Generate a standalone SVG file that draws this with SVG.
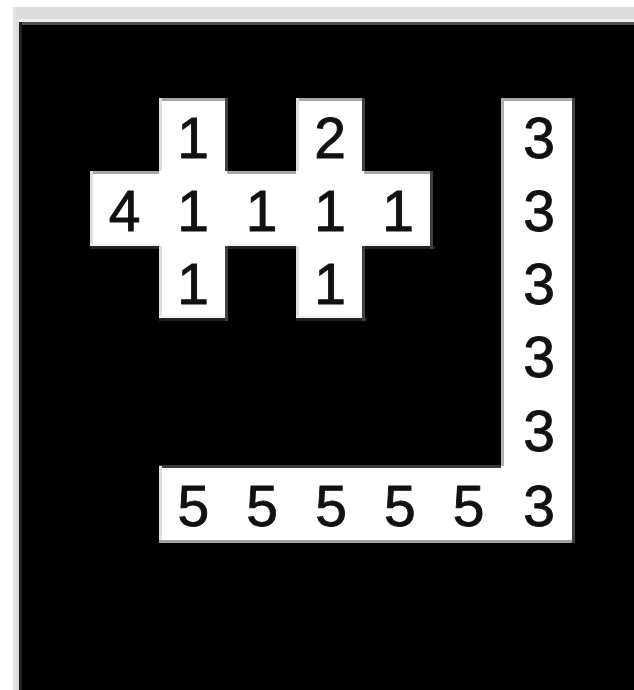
<svg xmlns="http://www.w3.org/2000/svg" width="634" height="690" viewBox="0 0 634 690">
  <style>
    .n { font-family: "Liberation Sans", Arial, sans-serif; font-size: 57px; fill: #111; stroke: #111; stroke-width: 0.9px; text-anchor: middle; }
    .w { fill: #ffffff; }
    .tp { fill: #a8a8a8; }
    .lf { fill: #dedede; }
    .rt { fill: #404040; }
    .bt { fill: #222222; }
    .bi { fill: #f0f0f0; }
  </style>
  <g id="frame">
    <rect x="0" y="0" width="634" height="690" fill="#ffffff"/>
    <rect x="13" y="7" width="621" height="683" fill="#dcdcdc"/>
    <rect x="13" y="7" width="3" height="683" fill="#e4e4e4"/>
    <rect x="19" y="19" width="615" height="3" fill="#f2f2f2"/>
    <rect x="19" y="22" width="615" height="3" fill="#505050"/>
    <rect x="19" y="22" width="3" height="668" fill="#202020"/>
    <rect x="22" y="25" width="612" height="665" fill="#000000"/>
  </g>
  <g id="white-areas">
    <rect class="w" x="159" y="98" width="68" height="220"/>
    <rect class="w" x="296" y="98" width="68" height="220"/>
    <rect class="w" x="90" y="171" width="342" height="75"/>
    <rect class="w" x="501" y="98" width="71" height="443"/>
    <rect class="w" x="159" y="466" width="413" height="75"/>
  </g>
  <g id="edges">
    <rect class="tp" x="159" y="98" width="68" height="3"/>
    <rect class="tp" x="296" y="98" width="68" height="3"/>
    <rect class="tp" x="90" y="171" width="69" height="3"/>
    <rect class="tp" x="227" y="171" width="69" height="3"/>
    <rect class="tp" x="364" y="171" width="68" height="3"/>
    <rect class="tp" x="501" y="98" width="71" height="3"/>
    <rect x="159" y="465" width="342" height="3" fill="#3a3a3a"/>
    <rect class="lf" x="159" y="98" width="3" height="73"/>
    <rect class="lf" x="159" y="246" width="3" height="72"/>
    <rect class="lf" x="90" y="171" width="3" height="75"/>
    <rect class="lf" x="296" y="98" width="3" height="73"/>
    <rect class="lf" x="296" y="246" width="3" height="72"/>
    <rect x="501" y="98" width="3" height="368" fill="#b0b0b0"/>
    <rect class="lf" x="159" y="466" width="3" height="75"/>
    <rect class="bi" x="90" y="244" width="69" height="2"/>
    <rect class="bi" x="227" y="244" width="69" height="2"/>
    <rect class="bi" x="364" y="244" width="68" height="2"/>
    <rect class="bi" x="159" y="316" width="68" height="2"/>
    <rect class="bi" x="296" y="316" width="68" height="2"/>
    <rect class="bt" x="90" y="246" width="69" height="3"/>
    <rect class="bt" x="227" y="246" width="69" height="3"/>
    <rect class="bt" x="364" y="246" width="71" height="3"/>
    <rect class="bt" x="159" y="318" width="68" height="3"/>
    <rect class="bt" x="296" y="318" width="71" height="3"/>
    <rect x="159" y="540" width="416" height="3" fill="#a0a0a0"/>
    <rect class="rt" x="225" y="98" width="3" height="73"/>
    <rect class="rt" x="225" y="246" width="3" height="75"/>
    <rect class="rt" x="362" y="98" width="3" height="73"/>
    <rect class="rt" x="362" y="246" width="3" height="75"/>
    <rect class="rt" x="430" y="171" width="3" height="78"/>
    <rect class="rt" x="572" y="98" width="3" height="445"/>
  </g>
  <g id="cell-r1c1"><text class="n" x="193" y="158">1</text></g>
  <g id="cell-r1c3"><text class="n" x="330" y="158">2</text></g>
  <g id="cell-r2c0"><text class="n" x="124.5" y="231">4</text></g>
  <g id="cell-r2c1"><text class="n" x="193" y="231">1</text></g>
  <g id="cell-r2c2"><text class="n" x="261.5" y="231">1</text></g>
  <g id="cell-r2c3"><text class="n" x="330" y="231">1</text></g>
  <g id="cell-r2c4"><text class="n" x="398" y="231">1</text></g>
  <g id="cell-r3c1"><text class="n" x="193" y="304">1</text></g>
  <g id="cell-r3c3"><text class="n" x="330" y="304">1</text></g>
  <g id="cell-r1c6"><text class="n" x="539" y="158">3</text></g>
  <g id="cell-r2c6"><text class="n" x="539" y="231">3</text></g>
  <g id="cell-r3c6"><text class="n" x="539" y="304">3</text></g>
  <g id="cell-r4c6"><text class="n" x="539" y="377">3</text></g>
  <g id="cell-r5c6"><text class="n" x="539" y="451">3</text></g>
  <g id="cell-r6c6"><text class="n" x="539" y="526">3</text></g>
  <g id="cell-r6c1"><text class="n" x="193.4" y="526">5</text></g>
  <g id="cell-r6c2"><text class="n" x="262.2" y="526">5</text></g>
  <g id="cell-r6c3"><text class="n" x="331" y="526">5</text></g>
  <g id="cell-r6c4"><text class="n" x="399.8" y="526">5</text></g>
  <g id="cell-r6c5"><text class="n" x="468.6" y="526">5</text></g>
</svg>
